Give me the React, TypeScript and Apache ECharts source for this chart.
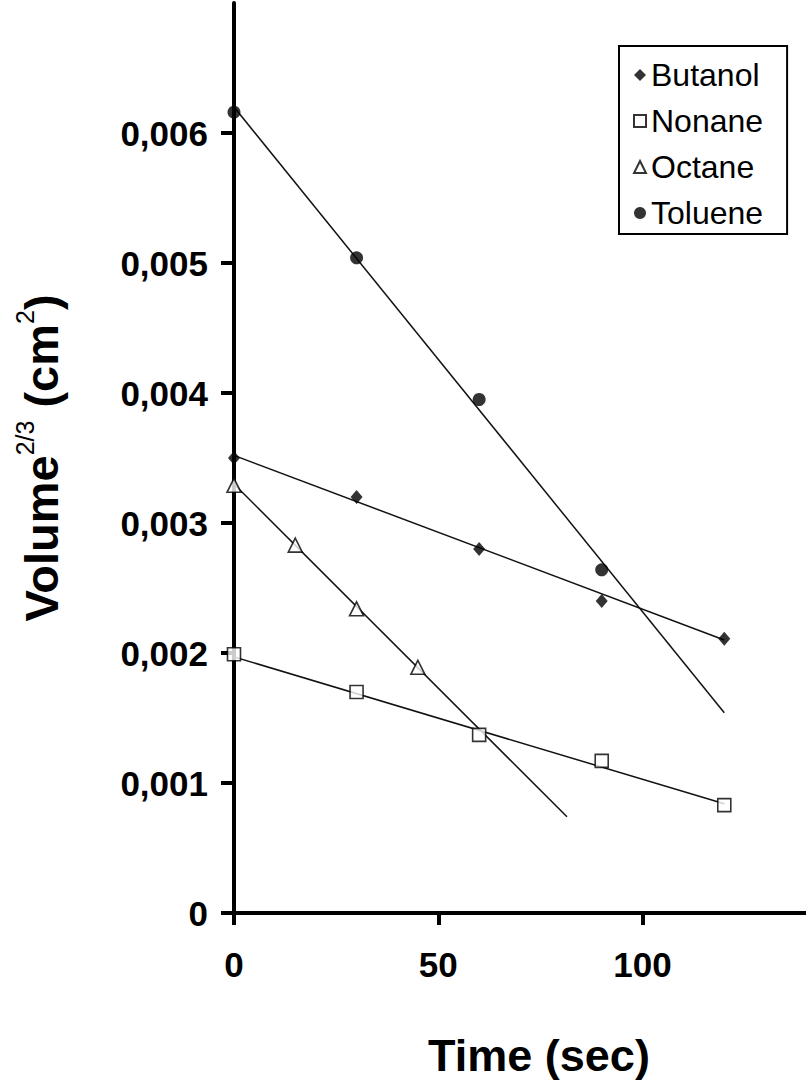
import React, { useEffect, useRef } from "react";
import * as echarts from "echarts";

// ---- data ----
const seriesNames = ["Butanol", "Nonane", "Octane", "Toluene"];

const butanolTime = [0, 30, 60, 90, 120];
const butanolVol = [0.0035, 0.0032, 0.0028, 0.0024, 0.00211];

const nonaneTime = [0, 30, 60, 90, 120];
const nonaneVol = [0.00199, 0.0017, 0.00137, 0.00117, 0.00083];

const octaneTime = [0, 15, 30, 45];
const octaneVol = [0.00329, 0.00283, 0.00234, 0.00189];

const tolueneTime = [0, 30, 60, 90];
const tolueneVol = [0.00616, 0.00504, 0.00395, 0.00264];

// fitted trend lines (end points as drawn in the figure)
const butanolTrendTime = [0, 120];
const butanolTrendVol = [0.00352, 0.0021];
const nonaneTrendTime = [0, 120];
const nonaneTrendVol = [0.00197, 0.00084];
const octaneTrendTime = [0, 81.5];
const octaneTrendVol = [0.0033, 0.00074];
const tolueneTrendTime = [0, 120];
const tolueneTrendVol = [0.0062, 0.00154];

const xTicks = [0, 50, 100];
const yTicks = [0, 0.001, 0.002, 0.003, 0.004, 0.005, 0.006];

const FONT = "'Liberation Sans', Arial, sans-serif";

const pairs = (xs: number[], ys: number[]) => xs.map((x, i) => [x, ys[i]]);

export default function App() {
  const ref = useRef<HTMLDivElement>(null);
  useEffect(() => {
    if (!ref.current) return;
    const chart = echarts.init(ref.current, null, { renderer: "svg" });

    const trendStyle = {
      type: "line" as const,
      symbol: "none",
      silent: true,
      lineStyle: { color: "#111", width: 1.5 },
      z: 2,
    };
    const scatterBase = { type: "scatter" as const, z: 5 };

    chart.setOption({
      animation: false,
      backgroundColor: "#fff",
      grid: { left: 234, top: 3, right: 0, bottom: 175, containLabel: false },
      legend: {
        data: seriesNames,
        orient: "vertical",
        left: 619,
        top: 46,
        backgroundColor: "#fff",
        borderColor: "#000",
        borderWidth: 2,
        borderRadius: 0,
        padding: [13, 24, 5, 14],
        itemGap: 14,
        itemWidth: 12,
        itemHeight: 12,
        itemTextGap: 16,
        textStyle: { fontFamily: FONT, fontSize: 32, lineHeight: 32, color: "#000" },
      },
      xAxis: {
        type: "value",
        min: 0,
        max: 140,
        name: "Time (sec)",
        nameLocation: "middle",
        nameGap: 120,
        nameTextStyle: {
          fontFamily: FONT,
          fontSize: 45,
          fontWeight: "bold",
          color: "#000",
          padding: [0, 0, 0, 38],
        },
        axisLine: { show: true, onZero: false, lineStyle: { color: "#000", width: 4 } },
        axisTick: { show: true, customValues: xTicks, length: 12, lineStyle: { color: "#000", width: 4 } },
        axisLabel: {
          customValues: xTicks,
          margin: 34,
          fontFamily: FONT,
          fontSize: 35,
          fontWeight: "bold",
          color: "#000",
        },
        splitLine: { show: false },
      },
      yAxis: {
        type: "value",
        min: 0,
        max: 0.007,
        name: "{a|Volume}{s|2/3}{a| (cm}{s|2}{a|)}",
        nameLocation: "middle",
        nameGap: 164,
        nameTextStyle: {
          color: "#000",
          rich: {
            a: { fontFamily: FONT, fontSize: 47, fontWeight: "bold", lineHeight: 58, color: "#000" },
            s: {
              fontFamily: FONT,
              fontSize: 25,
              fontWeight: "normal",
              lineHeight: 24,
              verticalAlign: "top",
              color: "#000",
            },
          },
        },
        axisLine: { show: true, onZero: false, lineStyle: { color: "#000", width: 4 } },
        axisTick: { show: true, customValues: yTicks, length: 13, lineStyle: { color: "#000", width: 4 } },
        axisLabel: {
          customValues: yTicks,
          margin: 26,
          fontFamily: FONT,
          fontSize: 35,
          fontWeight: "bold",
          color: "#000",
          formatter: (v: number) => (v === 0 ? "0" : v.toFixed(3).replace(".", ",")),
        },
        splitLine: { show: false },
      },
      series: [
        { ...trendStyle, data: pairs(butanolTrendTime, butanolTrendVol) },
        { ...trendStyle, data: pairs(nonaneTrendTime, nonaneTrendVol) },
        { ...trendStyle, data: pairs(octaneTrendTime, octaneTrendVol) },
        { ...trendStyle, data: pairs(tolueneTrendTime, tolueneTrendVol) },
        {
          ...scatterBase,
          name: "Butanol",
          symbol: "diamond",
          symbolSize: [12, 14],
          itemStyle: { color: "#000" },
          data: pairs(butanolTime, butanolVol),
        },
        {
          ...scatterBase,
          name: "Nonane",
          symbol: "rect",
          symbolSize: 13,
          itemStyle: { color: "#fff", borderColor: "#000", borderWidth: 1.6 },
          data: pairs(nonaneTime, nonaneVol),
        },
        {
          ...scatterBase,
          name: "Octane",
          symbol: "triangle",
          symbolSize: 14,
          itemStyle: { color: "#fff", borderColor: "#000", borderWidth: 1.6 },
          data: pairs(octaneTime, octaneVol),
        },
        {
          ...scatterBase,
          name: "Toluene",
          symbol: "circle",
          symbolSize: 13,
          itemStyle: { color: "#000" },
          data: pairs(tolueneTime, tolueneVol),
        },
      ],
    });
    return () => chart.dispose();
  }, []);

  return (
    <div
      ref={ref}
      style={{ position: "absolute", left: 0, top: 0, width: 806, height: 1088, background: "#fff" }}
    />
  );
}
